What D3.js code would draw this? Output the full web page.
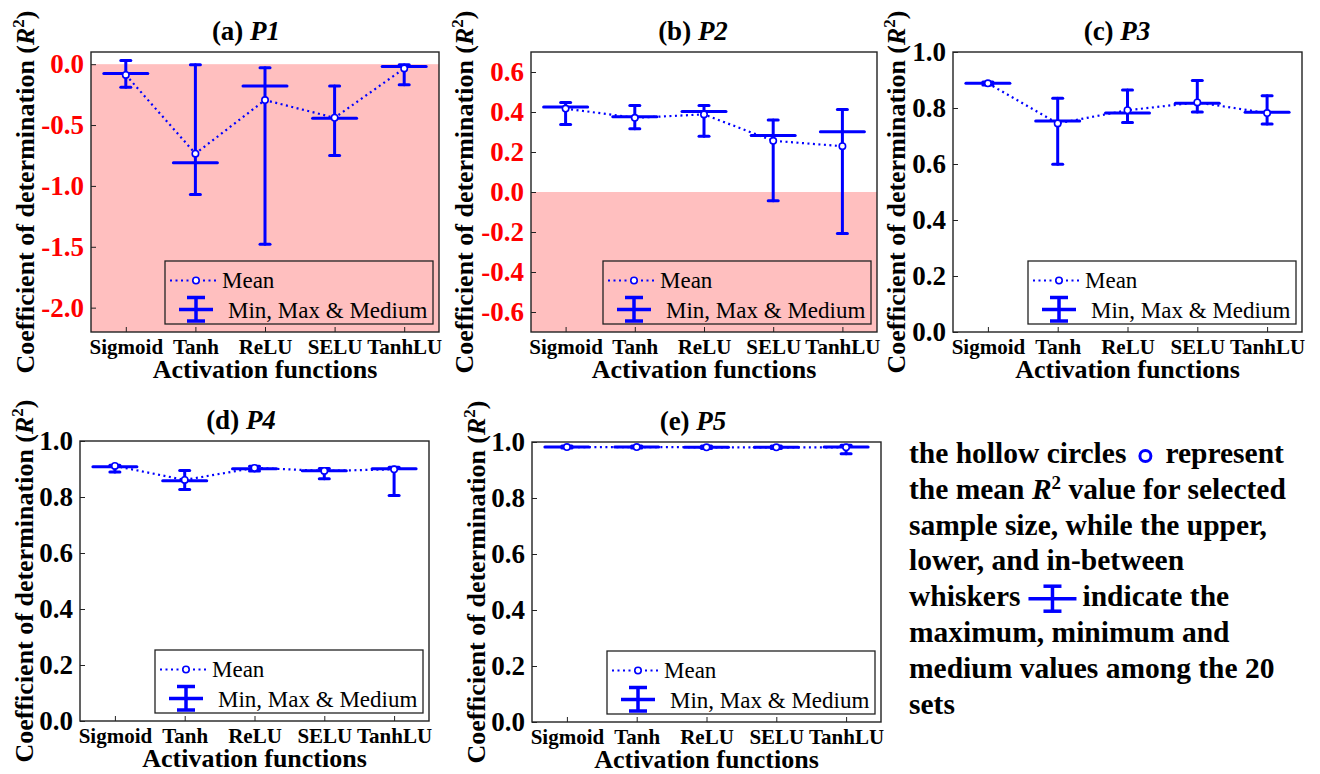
<!DOCTYPE html>
<html>
<head>
<meta charset="utf-8">
<script src="https://cdn.jsdelivr.net/npm/d3@7"></script>
<style>
body { margin: 0; background: #fff; }
</style>
</head>
<body>
<svg id="chart" width="1320" height="774"></svg>
<script>
var categories = ['Sigmoid', 'Tanh', 'ReLU', 'SELU', 'TanhLU'];

// P1
var p1Max = [0.03, -0.005, -0.03, -0.18, -0.005];
var p1Min = [-0.19, -1.07, -1.48, -0.75, -0.17];
var p1Median = [-0.077, -0.81, -0.18, -0.445, -0.02];
var p1Mean = [-0.088, -0.735, -0.295, -0.44, -0.035];
var p1Ticks = [0, -0.5, -1.0, -1.5, -2.0];

// P2
var p2Max = [0.447, 0.433, 0.433, 0.36, 0.413];
var p2Min = [0.338, 0.316, 0.279, -0.044, -0.207];
var p2Median = [0.425, 0.376, 0.403, 0.283, 0.301];
var p2Mean = [0.417, 0.371, 0.388, 0.256, 0.229];
var p2Ticks = [0.6, 0.4, 0.2, 0, -0.2, -0.4, -0.6];

// P3
var p3Max = [0.893, 0.835, 0.864, 0.898, 0.844];
var p3Min = [0.882, 0.599, 0.748, 0.786, 0.743];
var p3Median = [0.888, 0.754, 0.782, 0.817, 0.785];
var p3Mean = [0.888, 0.745, 0.792, 0.82, 0.782];

// P4
var p4Max = [0.913, 0.895, 0.91, 0.902, 0.906];
var p4Min = [0.889, 0.827, 0.893, 0.865, 0.805];
var p4Median = [0.908, 0.858, 0.901, 0.894, 0.901];
var p4Mean = [0.911, 0.861, 0.904, 0.893, 0.899];

// P5
var p5Max = [0.986, 0.986, 0.986, 0.986, 0.988];
var p5Min = [0.979, 0.979, 0.977, 0.977, 0.958];
var p5Median = [0.982, 0.982, 0.981, 0.981, 0.982];
var p5Mean = [0.982, 0.982, 0.981, 0.981, 0.981];

var unitTicks = [0, 0.2, 0.4, 0.6, 0.8, 1.0];

var noteLines = [
    'the hollow circles', 'the mean', 'sample size, while the upper,',
    'lower, and in-between', 'whiskers', 'maximum, minimum and',
    'medium values among the 20', 'sets'
];

var blue = '#0000ff';
var shade = '#ffbfbf';
var fontName = 'Liberation Serif';

var panels = [
    {tag: '(a) ', name: 'P1', max: p1Max, min: p1Min, med: p1Median, mean: p1Mean, ticks: p1Ticks,
        domain: [-2.2, 0.1], box: [91, 52, 439, 332], titleX: 246, ylabX: 25, tickColor: 'red', shade: true},
    {tag: '(b) ', name: 'P2', max: p2Max, min: p2Min, med: p2Median, mean: p2Mean, ticks: p2Ticks,
        domain: [-0.7, 0.7], box: [531, 52, 877, 332], titleX: 693, ylabX: 464, tickColor: 'red', shade: true},
    {tag: '(c) ', name: 'P3', max: p3Max, min: p3Min, med: p3Median, mean: p3Mean, ticks: unitTicks,
        domain: [0, 1], box: [953, 52, 1302, 332], titleX: 1117, ylabX: 896, tickColor: '#000', shade: false},
    {tag: '(d) ', name: 'P4', max: p4Max, min: p4Min, med: p4Median, mean: p4Mean, ticks: unitTicks,
        domain: [0, 1], box: [80, 441, 429, 721], titleX: 241, ylabX: 24, tickColor: '#000', shade: false},
    {tag: '(e) ', name: 'P5', max: p5Max, min: p5Min, med: p5Median, mean: p5Mean, ticks: unitTicks,
        domain: [0, 1], box: [532, 442, 881, 722], titleX: 693, ylabX: 476, tickColor: '#000', shade: false}
];

var svg = d3.select('#chart');

panels.forEach(drawPanel);
drawNote();

function drawPanel(p) {
    var left = p.box[0], top = p.box[1], w = p.box[2] - p.box[0], h = p.box[3] - p.box[1];
    var g = svg.append('g').attr('transform', 'translate(' + left + ',' + top + ')');

    var x = d3.scaleLinear().domain([-0.5, 4.5]).range([0, w]);
    var y = d3.scaleLinear().domain(p.domain).range([h, 0]);

    if (p.shade) {
        g.append('rect')
            .attr('x', 0).attr('y', y(0))
            .attr('width', w).attr('height', h - y(0))
            .attr('fill', shade);
    }

    // axes, ticks pointing inward
    var ya = g.append('g')
        .call(d3.axisLeft(y).tickValues(p.ticks).tickSize(-5).tickPadding(7)
            .tickFormat(function(d) { return d.toFixed(1); }));
    ya.select('.domain').remove();
    ya.selectAll('line').attr('stroke', '#222');
    ya.selectAll('text')
        .attr('font-family', fontName)
        .attr('fill', p.tickColor)
        .attr('font-size', 27)
        .attr('font-weight', 'bold');

    var xa = g.append('g').attr('transform', 'translate(0,' + h + ')')
        .call(d3.axisBottom(x).tickValues(d3.range(categories.length)).tickSize(-5).tickPadding(7)
            .tickFormat(function(i) { return categories[i]; }));
    xa.select('.domain').remove();
    xa.selectAll('line').attr('stroke', '#222');
    xa.selectAll('text')
        .attr('font-family', fontName)
        .attr('fill', '#000')
        .attr('font-size', 21)
        .attr('font-weight', 'bold');

    g.append('rect')
        .attr('width', w).attr('height', h)
        .attr('fill', 'none')
        .attr('stroke', '#222')
        .attr('stroke-width', 1.4);

    // error bars
    var bars = g.append('g').selectAll('g')
        .data(categories.map(function(c, i) { return i; }))
        .enter().append('g')
        .attr('stroke', blue)
        .attr('stroke-width', 3)
        .attr('stroke-linecap', 'round');
    bars.append('line')
        .attr('x1', function(i) { return x(i); }).attr('x2', function(i) { return x(i); })
        .attr('y1', function(i) { return y(p.min[i]); }).attr('y2', function(i) { return y(p.max[i]); });
    bars.append('line')
        .attr('x1', function(i) { return x(i) - 5; }).attr('x2', function(i) { return x(i) + 5; })
        .attr('y1', function(i) { return y(p.min[i]); }).attr('y2', function(i) { return y(p.min[i]); });
    bars.append('line')
        .attr('x1', function(i) { return x(i) - 5; }).attr('x2', function(i) { return x(i) + 5; })
        .attr('y1', function(i) { return y(p.max[i]); }).attr('y2', function(i) { return y(p.max[i]); });
    bars.append('line')
        .attr('x1', function(i) { return x(i) - 22; }).attr('x2', function(i) { return x(i) + 22; })
        .attr('y1', function(i) { return y(p.med[i]); }).attr('y2', function(i) { return y(p.med[i]); });

    // mean line
    var line = d3.line()
        .x(function(d, i) { return x(i); })
        .y(function(d) { return y(d); });
    g.append('path')
        .datum(p.mean)
        .attr('fill', 'none')
        .attr('stroke', blue)
        .attr('stroke-width', 2.2)
        .attr('stroke-dasharray', '2,3.5')
        .attr('d', line);
    g.append('g').selectAll('circle')
        .data(p.mean)
        .enter().append('circle')
        .attr('cx', function(d, i) { return x(i); })
        .attr('cy', function(d) { return y(d); })
        .attr('r', 3.2)
        .attr('fill', '#fff')
        .attr('stroke', blue)
        .attr('stroke-width', 1.6);

    drawLegend(g, w - 6 - 268, h - 8 - 63);

    // labels
    var t = svg.append('text')
        .attr('font-family', fontName)
        .attr('x', p.titleX).attr('y', top - 12)
        .attr('text-anchor', 'middle')
        .attr('font-size', 27).attr('font-weight', 'bold')
        .text(p.tag);
    t.append('tspan').attr('font-style', 'italic').text(p.name);

    svg.append('text')
        .attr('font-family', fontName)
        .attr('x', left + w / 2).attr('y', top + h + 46)
        .attr('text-anchor', 'middle')
        .attr('font-size', 26).attr('font-weight', 'bold')
        .text('Activation functions');

    var yl = svg.append('text')
        .attr('font-family', fontName)
        .attr('transform', 'translate(' + (p.ylabX + 9) + ',' + (top + h / 2) + ') rotate(-90)')
        .attr('text-anchor', 'middle')
        .attr('font-size', 26).attr('font-weight', 'bold')
        .text('Coefficient of determination (');
    yl.append('tspan').attr('font-style', 'italic').text('R');
    yl.append('tspan').attr('dy', -10).attr('font-size', 17).text('2');
    yl.append('tspan').attr('dy', 10).text(')');
}

function drawLegend(g, lx, ly) {
    var lg = g.append('g').attr('transform', 'translate(' + lx + ',' + ly + ')');
    lg.append('rect')
        .attr('width', 268).attr('height', 63)
        .attr('fill', 'none')
        .attr('stroke', '#222')
        .attr('stroke-width', 1.3);
    lg.append('line')
        .attr('x1', 5).attr('x2', 54).attr('y1', 19.5).attr('y2', 19.5)
        .attr('stroke', blue).attr('stroke-width', 2.2).attr('stroke-dasharray', '2,3.5');
    lg.append('circle')
        .attr('cx', 31).attr('cy', 19.5).attr('r', 3.2)
        .attr('fill', '#fff').attr('stroke', blue).attr('stroke-width', 1.6);
    lg.append('text')
        .attr('font-family', fontName)
        .attr('x', 57).attr('y', 27)
        .attr('font-size', 23)
        .text('Mean');
    var eb = lg.append('g').attr('stroke', blue).attr('stroke-width', 3.5);
    eb.append('line').attr('x1', 31).attr('x2', 31).attr('y1', 36.5).attr('y2', 60);
    eb.append('line').attr('x1', 22).attr('x2', 40).attr('y1', 36.5).attr('y2', 36.5);
    eb.append('line').attr('x1', 22).attr('x2', 40).attr('y1', 60).attr('y2', 60);
    eb.append('line').attr('x1', 14).attr('x2', 48).attr('y1', 48.5).attr('y2', 48.5);
    lg.append('text')
        .attr('font-family', fontName)
        .attr('x', 63).attr('y', 56.5)
        .attr('font-size', 23)
        .text('Min, Max & Medium');
}

function drawNote() {
    var x0 = 909, y0 = 463, step = 35.8;
    var g = svg.append('g');

    noteLines.forEach(function(s, i) {
        g.append('text').attr('class', 'nl' + i)
            .attr('x', x0).attr('y', y0 + i * step)
            .text(s);
    });

    // line 2: R^2
    var t2 = g.select('.nl1');
    t2.append('tspan').text(' ');
    t2.append('tspan').attr('font-style', 'italic').text('R');
    t2.append('tspan').attr('dy', -10).attr('font-size', 19).text('2');
    t2.append('tspan').attr('dy', 10).text(' value for selected');

    g.append('text').attr('class', 'rep').attr('y', y0).text('represent');
    g.append('text').attr('class', 'ind').attr('y', y0 + 4 * step).text('indicate the');

    g.selectAll('text')
        .attr('font-family', fontName)
        .attr('font-size', 29.5)
        .attr('font-weight', 'bold');

    // line 1: circle symbol
    var w1 = g.select('.nl0').node().getComputedTextLength();
    var cx = x0 + w1 + 19;
    g.append('circle')
        .attr('cx', cx).attr('cy', y0 - 7).attr('r', 5.5)
        .attr('fill', 'none').attr('stroke', blue).attr('stroke-width', 3);
    g.select('.rep').attr('x', cx + 20);

    // line 5: errorbar symbol
    var y5 = y0 + 4 * step;
    var w5 = g.select('.nl4').node().getComputedTextLength();
    var ex = x0 + w5 + 8;
    var eb = g.append('g').attr('stroke', blue).attr('stroke-width', 3.5);
    eb.append('line').attr('x1', ex).attr('x2', ex + 48).attr('y1', y5 - 7.5).attr('y2', y5 - 7.5);
    eb.append('line').attr('x1', ex + 24).attr('x2', ex + 24).attr('y1', y5 - 20).attr('y2', y5 + 5);
    eb.append('line').attr('x1', ex + 15).attr('x2', ex + 33).attr('y1', y5 - 20).attr('y2', y5 - 20);
    eb.append('line').attr('x1', ex + 15).attr('x2', ex + 33).attr('y1', y5 + 5).attr('y2', y5 + 5);
    g.select('.ind').attr('x', ex + 54);
}
</script>
</body>
</html>
